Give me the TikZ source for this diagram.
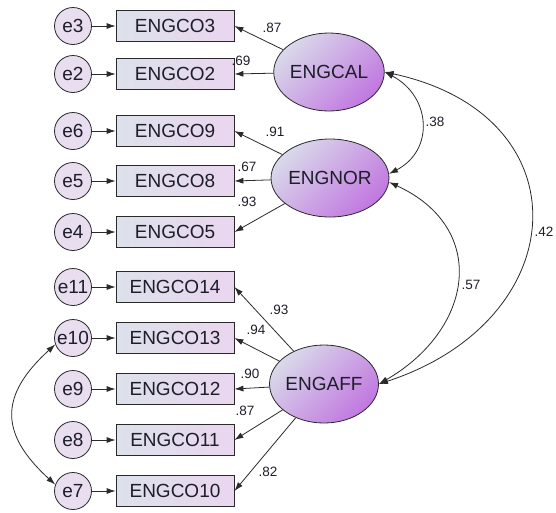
\documentclass[tikz,border=0pt]{standalone}
\usepackage{fontspec}
\setmainfont{Liberation Sans}
\usetikzlibrary{shapes.geometric,arrows.meta}
\definecolor{boxL}{HTML}{DCE1EB}
\definecolor{boxR}{HTML}{EAD6EF}
\definecolor{errF}{HTML}{E9DDF0}
\definecolor{latL}{HTML}{D9D9EA}
\definecolor{latR}{HTML}{C177E0}
\definecolor{ink}{HTML}{1E1E2A}
\definecolor{edge}{HTML}{2A2A2A}
\begin{document}
\begin{tikzpicture}[x=1pt,y=-1pt,
 obs/.style={draw=edge, line width=0.8pt, rectangle, minimum width=118pt, minimum height=31pt, left color=boxL, right color=boxR, text=ink, font=\fontsize{19}{19}\selectfont, inner sep=0pt},
 err/.style={draw=edge, line width=0.8pt, circle, minimum size=37pt, inner sep=0pt, fill=errF, text=ink, font=\fontsize{19}{19}\selectfont},
 lat/.style={draw=edge, line width=0.8pt, ellipse, minimum width=100pt, minimum height=78pt, inner sep=0pt, top color=latL, bottom color=latR, shading angle=45, text=ink, font=\fontsize{19}{19}\selectfont},
 load/.style={draw=edge, line width=0.8pt, -{Latex[length=9pt,width=6pt]}},
 cov/.style={draw=edge, line width=0.8pt, {Latex[length=9pt,width=6pt]}-{Latex[length=9pt,width=6pt]}},
 coef/.style={text=ink, font=\fontsize{13.5}{13.5}\selectfont, inner sep=0pt}
]
\useasboundingbox (0,0) rectangle (556,512);

% latent variables
\node[lat] (ENGCAL) at (329,72) {ENGCAL};
\node[lat] (ENGNOR) at (330,178) {ENGNOR};
\node[lat] (ENGAFF) at (324,384) {ENGAFF};

% observed variables and errors
\foreach \name/\err/\y in {ENGCO3/e3/26, ENGCO2/e2/74, ENGCO9/e6/131, ENGCO8/e5/181, ENGCO5/e4/232, ENGCO14/e11/287, ENGCO13/e10/338, ENGCO12/e9/389, ENGCO11/e8/440, ENGCO10/e7/491}{
  \node[obs] (\name) at (175,\y) {\name};
  \node[err] (\err) at (73,\y) {\err};
  \draw[load] (\err) -- (\name);
}

% loadings
\draw[load] (ENGCAL) -- (ENGCO3.east);
\draw[load] (ENGCAL) -- (ENGCO2.east);
\draw[load] (ENGNOR) -- (ENGCO9.east);
\draw[load] (ENGNOR) -- (ENGCO8.east);
\draw[load] (ENGNOR) -- (ENGCO5.east);
\draw[load] (ENGAFF) -- (ENGCO14.east);
\draw[load] (ENGAFF) -- (ENGCO13.east);
\draw[load] (ENGAFF) -- (ENGCO12.east);
\draw[load] (ENGAFF) -- (ENGCO11.east);
\draw[load] (ENGAFF) -- (ENGCO10.east);

\node[coef] (l1) at (272,28) {.87};
\node[coef] (l2) at (241,61) {.69};
\node[coef] (l3) at (275,132) {.91};
\node[coef] (l4) at (247,167) {.67};
\node[coef] (l5) at (247,202) {.93};
\node[coef] (l6) at (279,310) {.93};
\node[coef] (l7) at (256,330) {.94};
\node[coef] (l8) at (250,374) {.90};
\node[coef] (l9) at (245,411) {.87};
\node[coef] (l10) at (268,472) {.82};

% covariances
\draw[cov] (ENGCAL.east) .. controls +(46,24) and +(46,-24) .. (ENGNOR.4);
\draw[cov] (ENGNOR.-4) .. controls +(100,46) and +(95,-55) .. (ENGAFF.east);
\draw[cov] (ENGCAL.east) .. controls +(201,43) and +(196,-64) .. (ENGAFF.east);
\draw[cov] (e10.200) .. controls +(-56,51) and +(-56,-51) .. (e7.160);

\node[coef] (c1) at (435,122) {.38};
\node[coef] (c2) at (471,285) {.57};
\node[coef] (c3) at (544,232) {.42};
\end{tikzpicture}
\end{document}
